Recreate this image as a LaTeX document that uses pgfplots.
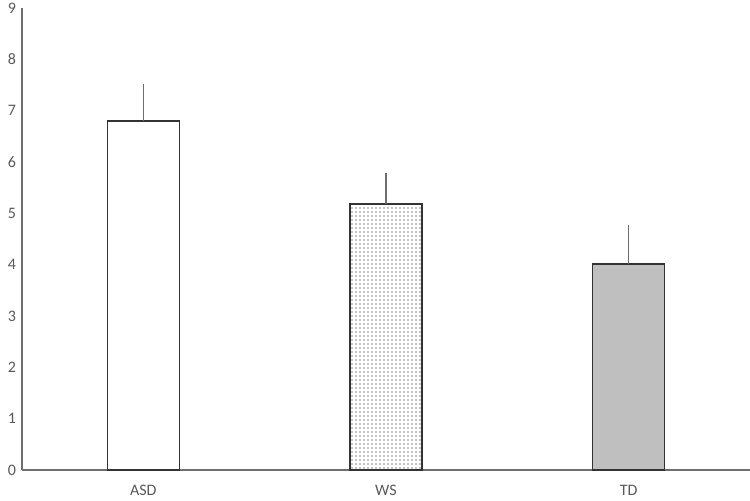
\documentclass[border=0pt]{standalone}
\usepackage{fontspec}
\setmainfont{Carlito}
\usepackage{pgfplots}
\pgfplotsset{compat=1.18}
\usetikzlibrary{patterns}
\definecolor{txtgray}{HTML}{595959}
\definecolor{axgray}{HTML}{6E6E6E}
\definecolor{tdgray}{HTML}{BFBFBF}
\begin{document}
\begin{tikzpicture}[x=0.75pt,y=0.75pt]
\path[use as bounding box] (-22,-30) rectangle (728,470);
\begin{axis}[
    at={(0,0)}, anchor=south west,
    scale only axis,
    width=546pt, height=346.5pt,
    xmin=-0.5, xmax=2.5,
    ymin=0, ymax=9,
    ytick={0,1,...,9},
    xtick={0,1,2},
    xticklabels={ASD,WS,TD},
    axis x line=bottom, axis y line=left,
    axis line style={axgray, line width=1.2pt, -},
    major tick length=0pt,
    ticklabel style={font=\fontsize{12}{14}\selectfont, text=txtgray},
    /pgf/number format/assume math mode=true,
    yticklabel style={xshift=-1pt},
    xticklabel style={yshift=-8pt},
    ybar, bar width=54pt, bar shift=0pt,
    clip=false,
]
\addplot[draw=black!80, line width=1pt, fill=white,
    error bars/.cd, y dir=plus, y explicit, error mark=none,
    error bar style={axgray, line width=1pt}]
    coordinates {(0,6.80) +- (0,0.72)};
\addplot[draw=black!80, line width=1pt, pattern=dots, pattern color=black,
    error bars/.cd, y dir=plus, y explicit, error mark=none,
    error bar style={axgray, line width=1pt}]
    coordinates {(1,5.18) +- (0,0.61)};
\addplot[draw=black!80, line width=1pt, fill=tdgray,
    error bars/.cd, y dir=plus, y explicit, error mark=none,
    error bar style={axgray, line width=1pt}]
    coordinates {(2,4.01) +- (0,0.76)};
\end{axis}
\end{tikzpicture}
\end{document}
